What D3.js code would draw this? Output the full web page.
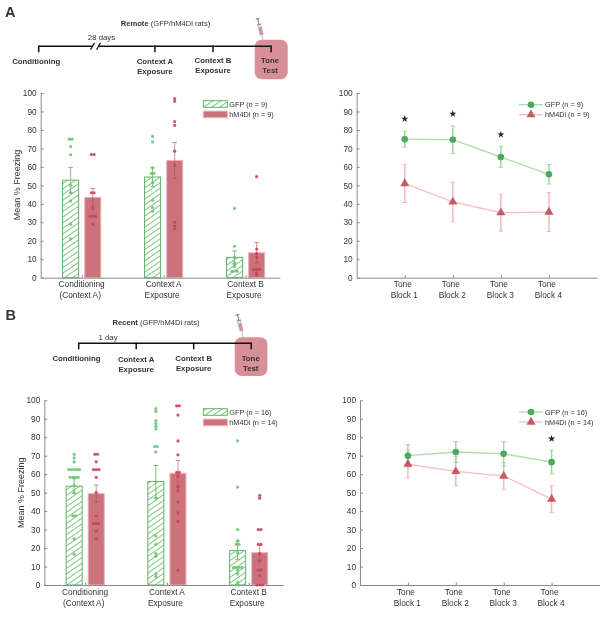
<!DOCTYPE html>
<html><head><meta charset="utf-8">
<script src="https://cdn.jsdelivr.net/npm/d3@7"></script>
<style>html,body{margin:0;padding:0;background:#fff}svg{display:block;filter:blur(0.45px)}text{font-family:"Liberation Sans",Arial,sans-serif;fill:#333}</style>
</head><body><div id="c"></div>
<script>
const barCategories=[["Conditioning","(Context A)"],["Context A","Exposure"],["Context B","Exposure"]];
const toneBlocks=[["Tone","Block 1"],["Tone","Block 2"],["Tone","Block 3"],["Tone","Block 4"]];
const yTicks=d3.range(0,101,10);

const remoteBarGFP=[52.8,54.5,11];
const remoteErrGFP=[6.9,5,3.5];
const remoteBarHM=[43.5,63.5,13.5];
const remoteErrHM=[4.8,9.7,5.5];
const remotePtsGFP=[
 [75,75,71,66.5,50,46,41.5,29,21],
 [76.5,73.5,59.5,56.5,56.5,51.5,42,38,36],
 [37.5,17,11,8,7,6,3.5,3.5,3.5]];
const remotePtsHM=[
 [66.7,66.7,46,46,37.5,33.3,33.3,33.3,29],
 [97,95.5,84.5,82.5,68.5,61,30,28,26.5],
 [54.7,15.5,13,11,4.5,4.5,4.5,2.5,1.5]];
const remoteToneGFP=[75,74.7,65.3,56];
const remoteToneErrGFP=[4.3,7.5,5.6,5.3];
const remoteToneHM=[51,41,35.2,35.5];
const remoteToneErrHM=[10.3,10.7,10,10.5];
const remoteStars=[[1,86],[2,88.7],[3,77.5]];

const recentBarGFP=[53.5,56,18.7];
const recentErrGFP=[4,8.7,5];
const recentBarHM=[49.5,60.5,17.5];
const recentErrHM=[4.6,7,4];
const recentPtsGFP=[
 [70.8,68.8,66.7,62.5,62.5,62.5,62.5,62.5,58.3,58.3,58.3,58.3,54,50,37.5,37.5,25,16.7],
 [95.5,94,89,87.5,86,84.5,75,75,72,47,26.5,22,17,15.5,6,4.5],
 [78,53,30,24,22,22,17.5,9.5,9.5,9.5,9.5,8,6,1.5,0,0]];
const recentPtsHM=[
 [70.8,70.8,66.7,62.5,62.5,62.5,58.3,50,37.5,33.3,33.3,33.3,29,25],
 [97,97,92,78,70.5,61,61,59,53,51,45,39,34.5,8],
 [48.5,47,30,30,22,22,17,13,8,8,5,0,0,0]];
const recentToneGFP=[70,72,71,66.5];
const recentToneErrGFP=[6,5.7,6.5,6.3];
const recentToneHM=[65.5,61.5,59,46.5];
const recentToneErrHM=[7.5,7.8,7.3,7.3];
const recentStars=[[4,79.2]];

const C={gl:"#5fb565",gd:"#4fa95a",glight:"#aedcab",gdot:"#6ec474",gerr:"#6cbd6f",
 rbar:"#cc727c",rstroke:"#e8b4b9",rd:"#c75a67",rlight:"#f5bcc4",rdot:"#c44558",box:"#d98f97"};
const W=600,H=619;
const svg=d3.select("#c").append("svg").attr("width",W).attr("height",H);
const defs=svg.append("defs");
const pat=defs.append("pattern").attr("id","hatch").attr("patternUnits","userSpaceOnUse")
 .attr("width",4.6).attr("height",4.6).attr("patternTransform","rotate(-35)");
pat.append("rect").attr("width",4.6).attr("height",4.6).attr("fill","#fff");
pat.append("line").attr("x1",0).attr("x2",4.6).attr("y1",2.3).attr("y2",2.3).attr("stroke","#7cc67f").attr("stroke-width",1);

function axes(g,x,y,ticks,labels,dyFirst,dySecond,labelShift){
 const ax=g.append("g").attr("transform",`translate(${x.range()[0]},0)`)
  .call(d3.axisLeft(y).tickValues(yTicks).tickSizeInner(-3).tickSizeOuter(0).tickPadding(4));
 const bx=g.append("g").attr("transform",`translate(0,${y.range()[0]})`)
  .call(d3.axisBottom(x).tickValues(ticks).tickSizeInner(-2.5).tickSizeOuter(0).tickFormat(""));
 [ax,bx].forEach(a=>{a.selectAll("path,line").attr("stroke","#8a8a8a").attr("stroke-width",1);a.selectAll("text").attr("font-size",8.3).attr("fill","#333");});
 labels.forEach((l,i)=>{
  g.append("text").attr("x",x(ticks[i])+labelShift[0]).attr("y",y.range()[0]+dyFirst).attr("text-anchor","middle").attr("font-size",8.3).text(l[0]);
  g.append("text").attr("x",x(ticks[i])+labelShift[1]).attr("y",y.range()[0]+dySecond).attr("text-anchor","middle").attr("font-size",8.3).text(l[1]);
 });
}
function swarm(vals){
 const out=[],counts=d3.rollup(vals,v=>v.length,d=>d),seen=new Map();
 vals.forEach(v=>{const n=counts.get(v),i=seen.get(v)||0;seen.set(v,i+1);out.push({v,k:i-(n-1)/2});});
 return out;
}
function errBar(g,cx,y,v,e,color,cap,w,op){
 const s=g.append("g").attr("stroke",color).attr("stroke-width",w).attr("opacity",op);
 s.append("line").attr("x1",cx).attr("x2",cx).attr("y1",y(v-e)).attr("y2",y(v+e));
 [v-e,v+e].forEach(t=>s.append("line").attr("x1",cx-cap).attr("x2",cx+cap).attr("y1",y(t)).attr("y2",y(t)).attr("stroke-width",1));
}
function barPanel(o){
 const g=svg.append("g");
 const x=d3.scaleLinear().domain([0.5,o.xMax]).range(o.xr);
 const y=d3.scaleLinear().domain([0,100]).range(o.yr);
 const off=0.135,bw=0.196;
 const ser=[{k:-off,v:o.gfp,e:o.gfpE,p:o.gfpP,g:true},{k:off,v:o.hm,e:o.hmE,p:o.hmP,g:false}];
 const ticks=[1,2,3];
 ser.forEach(s=>{
  s.v.forEach((v,i)=>{
   const c=x(i+1+s.k),w=x(bw)-x(0);
   g.append("rect").attr("x",c-w/2).attr("y",y(v)).attr("width",w).attr("height",y(0)-y(v))
    .attr("fill",s.g?"url(#hatch)":C.rbar).attr("stroke",s.g?C.gl:C.rstroke).attr("stroke-width",1);
  });
 });
 axes(g,x,y,ticks,barCategories,9.5,20.5,o.shift);
 ser.forEach(s=>{
  s.v.forEach((v,i)=>{
   const c=x(i+1+s.k);
   errBar(g,c,y,v,s.e[i],s.g?C.gerr:"#b9404f",2.2,0.9,s.g?1:0.65);
   g.append("g").selectAll("circle").data(swarm(s.p[i])).join("circle")
    .attr("cx",d=>c+d.k*2.7).attr("cy",d=>y(d.v)).attr("r",1.6)
    .attr("fill",s.g?C.gdot:C.rdot).attr("opacity",.9);
  });
 });
 const lx=o.legend[0];
 o.legend[1].forEach((ly,i)=>{
  g.append("rect").attr("x",lx).attr("y",ly-3.3).attr("width",24).attr("height",6.6)
   .attr("fill",i?C.rbar:"url(#hatch)").attr("stroke",i?C.rstroke:C.gl).attr("stroke-width",1);
  g.append("text").attr("x",lx+26).attr("y",ly+2.7).attr("font-size",7.3).text(o.names[i]);
 });
 g.append("text").attr("transform",`translate(${o.yLab[0]},${o.yLab[1]}) rotate(-90)`).attr("text-anchor","middle").attr("font-size",9).text("Mean % Freezing");
}
function linePanel(o){
 const g=svg.append("g");
 const x=d3.scaleLinear().domain([0,5]).range(o.xr);
 const y=d3.scaleLinear().domain([0,100]).range(o.yr);
 const idx=[1,2,3,4];
 axes(g,x,y,idx,toneBlocks,9.5,20.5,[-2,-0.5]);
 const ln=d3.line().x((d,i)=>x(i+1)).y(d=>y(d));
 const tri=d3.symbol().type(d3.symbolTriangle).size(36);
 [{v:o.hm,e:o.hmE,g:false},{v:o.gfp,e:o.gfpE,g:true}].forEach(s=>{
  s.v.forEach((v,i)=>errBar(g,x(i+1),y,v,s.e[i],s.g?"#a3d6a1":"#f3b6bf",2.2,1.5,1));
 });
 [{v:o.hm,g:false},{v:o.gfp,g:true}].forEach(s=>{
  g.append("path").attr("d",ln(s.v)).attr("fill","none").attr("stroke",s.g?C.glight:C.rlight).attr("stroke-width",1.3);
  s.v.forEach((v,i)=>{
   if(s.g) g.append("circle").attr("cx",x(i+1)).attr("cy",y(v)).attr("r",3.3).attr("fill",C.gd);
   else g.append("path").attr("d",tri).attr("transform",`translate(${x(i+1)},${y(v)})`).attr("fill",C.rd);
  });
 });
 o.stars.forEach(s=>{
  g.append("path").attr("d",d3.symbol().type(d3.symbolStar).size(16)).attr("transform",`translate(${x(s[0])},${y(s[1])})`).attr("fill","#222");
 });
 const lx=o.legend[0];
 o.legend[1].forEach((ly,i)=>{
  g.append("line").attr("x1",lx).attr("x2",lx+24).attr("y1",ly).attr("y2",ly).attr("stroke",i?C.rlight:C.glight).attr("stroke-width",1.3);
  if(i) g.append("path").attr("d",tri).attr("transform",`translate(${lx+12},${ly})`).attr("fill",C.rd);
  else g.append("circle").attr("cx",lx+12).attr("cy",ly).attr("r",3.3).attr("fill",C.gd);
  g.append("text").attr("x",lx+26).attr("y",ly+2.7).attr("font-size",7.3).text(o.names[i]);
 });
}
function timeline(o){
 const g=svg.append("g");
 const x=d3.scaleLinear().domain([0,1]).range([o.x0,o.x0+o.step]);
 g.append("rect").attr("x",o.box[0]).attr("y",o.box[1]).attr("width",o.box[2]).attr("height",o.box[3]).attr("rx",7).attr("fill",C.box);
 const st=o.stages;
 g.append("line").attr("x1",x(st[0].i)).attr("x2",x(st[3].i)).attr("y1",o.y).attr("y2",o.y).attr("stroke","#111").attr("stroke-width",1.5);
 st.forEach(s=>{
  g.append("line").attr("x1",x(s.i)).attr("x2",x(s.i)).attr("y1",o.y-.7).attr("y2",o.y+6).attr("stroke","#111").attr("stroke-width",1.5);
  s.t.forEach((t,k)=>g.append("text").attr("x",x(s.i)+s.dx).attr("y",o.y+s.dy+k*9.5).attr("text-anchor","middle").attr("font-size",7.8).attr("font-weight","bold").attr("fill","#222").text(t));
 });
 if(o.brk){
  g.append("rect").attr("x",o.brk-2.5).attr("y",o.y-2).attr("width",5).attr("height",4).attr("fill","#fff");
  [-3,3].forEach(d=>g.append("line").attr("x1",o.brk+d-2).attr("x2",o.brk+d+2).attr("y1",o.y+3.5).attr("y2",o.y-3.5).attr("stroke","#111").attr("stroke-width",1.3));
 }
 g.append("text").attr("x",o.gap[0]).attr("y",o.gap[1]).attr("text-anchor","middle").attr("font-size",7.8).text(o.gap[2]);
 const ttl=g.append("text").attr("x",o.title[0]).attr("y",o.title[1]).attr("text-anchor","middle").attr("font-size",7.6);
 ttl.append("tspan").attr("font-weight","bold").text(o.title[2]);
 ttl.append("tspan").text(" (GFP/hM4Di rats)");
 g.append("text").attr("x",o.letter[0]).attr("y",o.letter[1]).attr("font-size",14.5).attr("font-weight","bold").attr("fill","#111").text(o.letter[2]);
 // syringe
 const sy=g.append("g").attr("transform",`translate(${o.syr[0]},${o.syr[1]}) rotate(-14)`);
 sy.append("line").attr("x1",0).attr("x2",0).attr("y1",0).attr("y2",-8).attr("stroke","#aab4b8").attr("stroke-width",.7);
 sy.append("rect").attr("x",-1.6).attr("y",-15).attr("width",3.2).attr("height",7.5).attr("fill","#d98f97").attr("stroke","#999").attr("stroke-width",.4);
 sy.append("rect").attr("x",-1.6).attr("y",-18).attr("width",3.2).attr("height",3).attr("fill","#eee").attr("stroke","#888").attr("stroke-width",.4);
 sy.append("line").attr("x1",0).attr("x2",0).attr("y1",-18).attr("y2",-24).attr("stroke","#777").attr("stroke-width",.9);
 sy.append("line").attr("x1",-2).attr("x2",2).attr("y1",-24).attr("y2",-24).attr("stroke","#777").attr("stroke-width",.9);
 sy.append("line").attr("x1",-2.2).attr("x2",2.2).attr("y1",-18).attr("y2",-18).attr("stroke","#777").attr("stroke-width",.7);
}
timeline({x0:38.7,step:58.1,y:46.3,box:[254.7,39.7,33,39.5],brk:95.5,gap:[101.5,40,"28 days"],
 title:[165.5,26.3,"Remote"],letter:[5,17,"A"],syr:[263.5,42],
 stages:[{i:0,dx:-2.5,dy:18,t:["Conditioning"]},{i:2,dx:0,dy:18,t:["Context A","Exposure"]},{i:3,dx:0,dy:17,t:["Context B","Exposure"]},{i:4,dx:-1,dy:17,t:["Tone","Test"]}]});
timeline({x0:78.7,step:57.5,y:343.3,box:[234.7,337.3,32.7,38.7],gap:[108,340,"1 day"],
 title:[156,324.5,"Recent"],letter:[5.5,319.5,"B"],syr:[243.3,338],
 stages:[{i:0,dx:-2.2,dy:18,t:["Conditioning"]},{i:1,dx:0,dy:19,t:["Context A","Exposure"]},{i:2,dx:0,dy:18,t:["Context B","Exposure"]},{i:3,dx:-.5,dy:18,t:["Tone","Test"]}]});
barPanel({xr:[40.7,280],xMax:3.42,yr:[277.7,93],gfp:remoteBarGFP,gfpE:remoteErrGFP,hm:remoteBarHM,hmE:remoteErrHM,gfpP:remotePtsGFP,hmP:remotePtsHM,
 legend:[203.3,[104,114.4]],names:["GFP (n = 9)","hM4Di (n = 9)"],yLab:[20,185],shift:[0,-1.5]});
barPanel({xr:[44.3,283],xMax:3.42,yr:[585,400.3],gfp:recentBarGFP,gfpE:recentErrGFP,hm:recentBarHM,hmE:recentErrHM,gfpP:recentPtsGFP,hmP:recentPtsHM,
 legend:[203.3,[412,422.4]],names:["GFP (n = 16)","hM4Di (n = 14)"],yLab:[23.5,492.7],shift:[0,-1.5]});
linePanel({xr:[356.7,597],yr:[277.7,93],gfp:remoteToneGFP,gfpE:remoteToneErrGFP,hm:remoteToneHM,hmE:remoteToneErrHM,stars:remoteStars,legend:[519,[104.7,114.7]],names:["GFP (n = 9)","hM4Di (n = 9)"]});
linePanel({xr:[360,599.5],yr:[585,400.3],gfp:recentToneGFP,gfpE:recentToneErrGFP,hm:recentToneHM,hmE:recentToneErrHM,stars:recentStars,legend:[519,[412,422]],names:["GFP (n = 16)","hM4Di (n = 14)"]});
</script></body></html>
